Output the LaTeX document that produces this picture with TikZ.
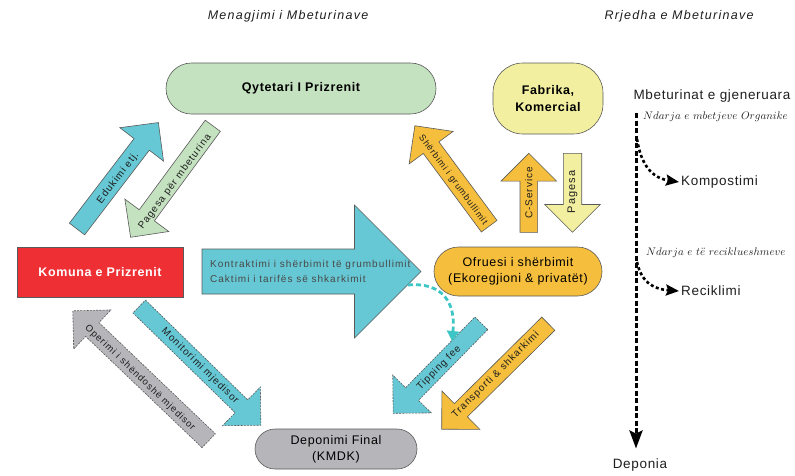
\documentclass[tikz,border=0pt]{standalone}
\usepackage{fontspec}
\usepackage{xcolor}
\usepackage{tikz}
\usetikzlibrary{arrows.meta,positioning}

\newfontfamily\labelfont[LetterSpace=5]{Liberation Sans}
\newfontfamily\arrowfont[LetterSpace=10]{Liberation Sans}

\definecolor{cyanfill}{HTML}{66C8D4}
\definecolor{greenfill}{HTML}{C4E2C0}
\definecolor{yellowfill}{HTML}{F2EFA0}
\definecolor{orangefill}{HTML}{F5BE3C}
\definecolor{redfill}{HTML}{EE3035}
\definecolor{grayfill}{HTML}{B5B5BA}
\definecolor{linegray}{HTML}{5A5A5A}
\definecolor{textdark}{HTML}{1E1E1E}
\definecolor{feecyan}{HTML}{3EC6C6}

% block arrow: style, tail centre, angle, length, shaft half width, head size
\newcommand{\blockarrow}[6]{%
  \begin{scope}[shift={#2}, rotate=#3]
    \path[#1] (0,-#5) -- ({#4-#6},-#5) -- ({#4-#6},-#6) -- (#4,0)
      -- ({#4-#6},#6) -- ({#4-#6},#5) -- (0,#5) -- cycle;
  \end{scope}}

\begin{document}
\begin{tikzpicture}[x=1pt, y=-1pt,
  every node/.style={inner sep=2pt},
  actor/.style={draw=linegray, line width=0.6pt, align=center,
    font=\labelfont\fontsize{12.5}{16}\selectfont},
  boldactor/.style={actor, font=\labelfont\bfseries\fontsize{12.5}{17}\selectfont},
  arrtext/.style={font=\arrowfont\fontsize{10}{12}\selectfont, text=textdark, inner sep=0pt},
  solidarr/.style={draw=linegray, line width=0.6pt},
  dasharr/.style={draw=linegray, line width=0.6pt, dash pattern=on 2pt off 1.2pt},
  heading/.style={font=\arrowfont\itshape\fontsize{12.5}{15}\selectfont, text=textdark},
  flowtext/.style={font=\labelfont\fontsize{13.5}{16}\selectfont, text=textdark},
  sublabel/.style={font=\fontsize{11}{13}\selectfont, anchor=west, text=textdark},
  flow/.style={line width=3pt, dash pattern=on 5pt off 2.5pt,
    -{Stealth[length=18pt,width=13pt,inset=3pt]}},
  branch/.style={line width=2.6pt, dash pattern=on 3pt off 2.5pt,
    -{Stealth[length=13pt,width=11pt,inset=2pt]}},
  feelink/.style={feecyan, line width=2.8pt, dash pattern=on 5pt off 3pt,
    -{Triangle[length=10pt,width=12pt]}}
]
\useasboundingbox (0,0) rectangle (795,475);

% headings
\node[heading] (mgmt) at (288,16) {Menagjimi i Mbeturinave};
\node[heading] (flowhead) at (679,16) {Rrjedha e Mbeturinave};

% actors
\node[boldactor, fill=greenfill, minimum width=270pt, minimum height=51pt,
  rounded corners=25.5pt] (citizen) at (301,88.5) {Qytetari I Prizrenit};
\node[boldactor, fill=yellowfill, minimum width=110pt, minimum height=71pt,
  rounded corners=30pt] (factory) at (548,98.5) {Fabrika,\\Komercial};
\node[boldactor, fill=redfill, text=white, minimum width=166pt,
  minimum height=50pt] (komuna) at (100,272) {Komuna e Prizrenit};
\node[actor, fill=orangefill, minimum width=168pt, minimum height=49pt,
  rounded corners=24.5pt] (provider) at (518,271.5) {Ofruesi i shërbimit\\(Ekoregjioni \& privatët)};
\node[actor, fill=grayfill, minimum width=162pt, minimum height=40pt,
  rounded corners=20pt] (landfill) at (336,449) {Deponimi Final\\(KMDK)};

% block arrows
\blockarrow{solidarr, fill=cyanfill}{(77,229)}{52.6}{134}{9.6}{27.5}
\blockarrow{solidarr, fill=greenfill}{(212.8,125.8)}{233.6}{138.5}{9.4}{27.3}
\blockarrow{solidarr, fill=orangefill}{(489.2,226.2)}{126.5}{125}{9.7}{27.3}
\blockarrow{solidarr, fill=orangefill}{(528.8,232.3)}{90}{79}{8.8}{27.8}
\blockarrow{solidarr, fill=yellowfill}{(572.5,153.3)}{-90}{79}{9.2}{27.8}
\blockarrow{solidarr, fill=cyanfill}{(202,271.5)}{0}{219}{22.5}{66.5}
\blockarrow{dasharr, fill=cyanfill}{(139.2,306.5)}{-44.3}{170}{9}{27.1}
\blockarrow{dasharr, fill=grayfill}{(208.7,440.7)}{136.3}{188}{9.6}{27}
\blockarrow{dasharr, fill=cyanfill}{(481.3,323.3)}{225.6}{126}{9}{27}
\blockarrow{solidarr, fill=orangefill}{(548.3,323.7)}{224.7}{150}{9.3}{27}

% arrow labels
\node[arrtext, rotate=52.6] (edu) at (118,178) {Edukimi etj.};
\node[arrtext, rotate=53.6] (fee) at (175,182) {Pagesa për mbeturina};
\node[arrtext, rotate=-53.5, font=\arrowfont\fontsize{9}{11}\selectfont] (collect) at (453,180) {Shërbimi i grumbullimit};
\node[arrtext, rotate=90] (cservice) at (528.8,193) {C-Service};
\node[arrtext, rotate=90, font=\arrowfont\fontsize{11}{13}\selectfont] (payment) at (572.5,192) {Pagesa};
\node[arrtext, rotate=-44.3] (monitor) at (200,366) {Monitorimi mjedisor};
\node[arrtext, rotate=-43.7, font=\arrowfont\fontsize{9.5}{11}\selectfont] (operate) at (140,378) {Operimi i shëndoshë mjedisor};
\node[arrtext, rotate=45.6] (tipping) at (439,368) {Tipping fee};
\node[arrtext, rotate=44.7] (transport) at (495.7,375) {Transporti \& shkarkimi};
\node[arrtext, anchor=west, align=left, text=linegray!80!black,
  font=\arrowfont\fontsize{10}{14.3}\selectfont] (contract) at (210,271.5)
  {Kontraktimi i shërbimit të grumbullimit\\Caktimi i tarifës së shkarkimit};

% tipping fee link
\coordinate (bigtip) at (408,285);
\coordinate (feetop) at (452,341);
\draw[feelink] (bigtip) .. controls (442,282) and (456,302) .. (feetop);

% waste flow
\node[flowtext] (generated) at (712,96) {Mbeturinat e gjeneruara};
\node[flowtext] (deponia) at (640,465) {Deponia};
\coordinate (flowtop) at (636,113);
\draw[flow, shorten >=8pt] (flowtop) -- (flowtop |- deponia.north);

\node[sublabel] (organiclbl) at (641,117) {$Ndarja\ e\ mbetjeve\ Organike$};
\coordinate (organic) at (637,139);
\node[flowtext, anchor=west] (compost) at (679,182) {Kompostimi};
\draw[branch] (organic) .. controls (641,165) and (652,178) .. (compost.west);

\node[sublabel] (recyclbl) at (644,253) {$Ndarja\ e\ t\ddot{e}\ reciklueshmeve$};
\coordinate (recyc) at (637,262);
\node[flowtext, anchor=west] (recycle) at (679,291) {Reciklimi};
\draw[branch] (recyc) .. controls (641,281) and (652,289) .. (recycle.west);
\end{tikzpicture}
\end{document}
